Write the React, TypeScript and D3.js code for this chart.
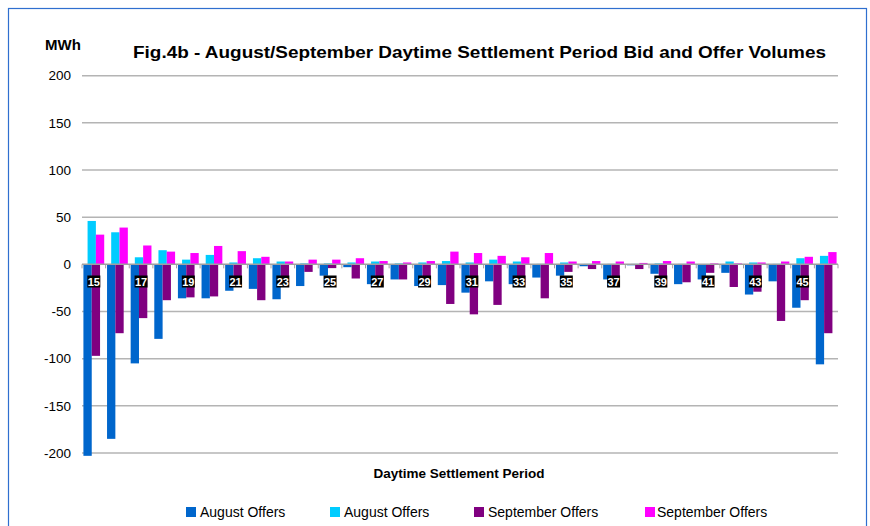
import React from "react";
import * as d3 from "d3";

const periods = [15,16,17,18,19,20,21,22,23,24,25,26,27,28,29,30,31,32,33,34,35,36,37,38,39,40,41,42,43,44,45,46];
const augBids = [-203,-185,-105,-79,-36,-36,-28,-26,-37,-23,-12,-3,-21,-16,-23,-22,-30,-18,-21,-14,-12,-2,-16,-1,-10,-21,-16,-9,-32,-18,-46,-106];
const augOffers = [46,34,7.5,15,5,10,2,6.5,3,1,1,2,3,1,2,3.5,2,5,3,0.5,2,0.5,0.5,0.5,1,0.5,0.3,3,2,0.5,6.5,9];
const sepBids = [-97,-73,-57,-38,-35,-34,-22,-38,-22,-8,-4,-15,-17,-16,-20,-42,-53,-43,-22,-36,-8,-5,-20,-5,-24,-19,-9,-24,-29,-60,-38,-73];
const sepOffers = [31.5,39,20,13.5,12,19.5,14,8,3,5,5,6.5,3.5,2,3.5,13.5,12,9,7.5,12,3,3.5,3,1.5,3.5,3,1,1,2,3,8,13];
const yTicks = [-200,-150,-100,-50,0,50,100,150,200];
const seriesNames = ["August Offers","August Offers","September Offers","September Offers"];
const colors = ["#0066CC","#00CCFF","#800080","#FF00FF"];

const series = [augBids, augOffers, sepBids, sepOffers];

export default function App() {
  const left = 82, right = 838;
  const y = d3.scaleLinear().domain([-200, 200]).range([453, 75.7]);
  const x = d3.scaleBand<number>().domain(periods).range([left, right]).padding(0);
  const B = x.bandwidth();
  const w = B / (2.5 + 0.34);
  const startOff = (B - 2.5 * w) / 2;
  const y0 = y(0);
  const font = "'Liberation Sans', Arial, sans-serif";
  const legendX = [[186, 200], [330, 344], [474, 488], [645, 657]];

  return (
    <svg width={870} height={526} style={{ position: "absolute", left: 0, top: 0, background: "#fff" }} fontFamily={font}>
      <rect x={8.5} y={8.5} width={858} height={540} fill="#fff" stroke="#2f6fcf" strokeWidth={1.2} />
      {yTicks.map((t) => (
        <g key={t}>
          {t !== 0 && <line x1={left} x2={right} y1={y(t)} y2={y(t)} stroke="#b4b4b4" strokeWidth={1.5} />}
          <text x={71} y={y(t)} dy="0.35em" textAnchor="end" fontSize={13.5} fill="#000">{t}</text>
        </g>
      ))}
      <text x={45} y={50} fontSize={15} fontWeight="bold">MWh</text>
      <text x={133} y={58} fontSize={17} fontWeight="bold" textLength={693} lengthAdjust="spacingAndGlyphs">Fig.4b - August/September Daytime Settlement Period Bid and Offer Volumes</text>
      {series.map((vals, si) => (
        <g key={si}>
          {vals.map((v, i) => {
            const bx = (x(periods[i]) as number) + startOff + si * w / 2;
            const yy = y(v);
            return <rect key={i} x={bx} y={Math.min(yy, y0)} width={w} height={Math.abs(yy - y0)} fill={colors[si]} />;
          })}
        </g>
      ))}
      <line x1={left} x2={right} y1={y0} y2={y0} stroke="#a0a0a0" strokeWidth={1.5} />
      {periods.map((p) => (
        <line key={p} x1={x(p) as number} x2={x(p) as number} y1={y0} y2={y0 + 4} stroke="#a0a0a0" strokeWidth={1} />
      ))}
      <line x1={right} x2={right} y1={y0} y2={y0 + 4} stroke="#a0a0a0" strokeWidth={1} />
      {periods.filter((p) => p % 2 === 1).map((p) => {
        const cx = (x(p) as number) + B / 2;
        return (
          <g key={p}>
            <rect x={cx - 6.5} y={275.5} width={13} height={12} fill="#000" />
            <text x={cx} y={285.5} textAnchor="middle" fontSize={11} fontWeight="bold" fill="#fff">{p}</text>
          </g>
        );
      })}
      <text x={459} y={478} textAnchor="middle" fontSize={13.5} fontWeight="bold">Daytime Settlement Period</text>
      {seriesNames.map((n, i) => (
        <g key={i}>
          <rect x={legendX[i][0]} y={507} width={10} height={10} fill={colors[i]} />
          <text x={legendX[i][1]} y={516.5} fontSize={14}>{n}</text>
        </g>
      ))}
    </svg>
  );
}
